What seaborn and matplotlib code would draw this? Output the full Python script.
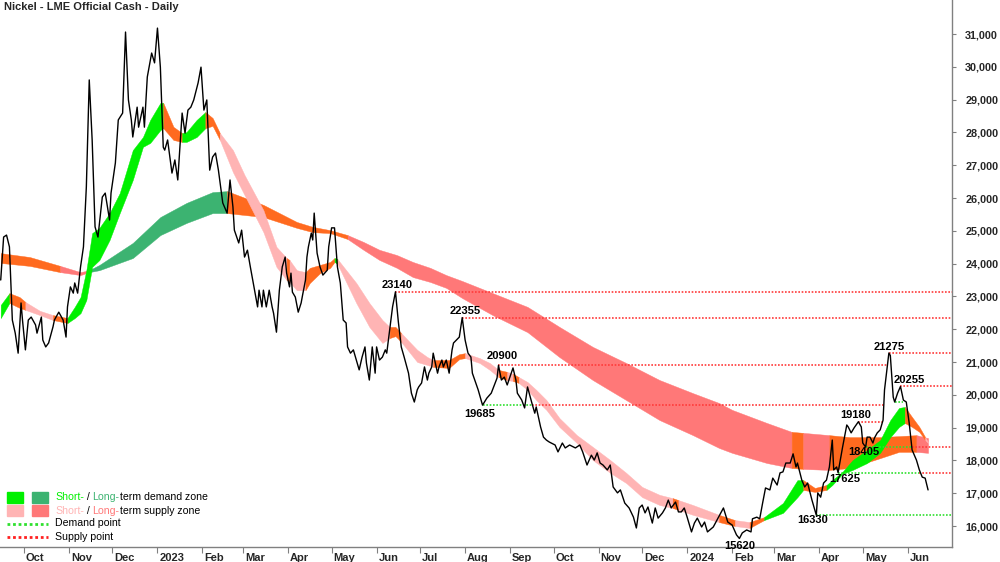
import numpy as np
import pandas as pd
import matplotlib
matplotlib.use("Agg")
import matplotlib.pyplot as plt
from matplotlib.patches import Rectangle
from matplotlib.lines import Line2D
from matplotlib.transforms import ScaledTranslation
import seaborn as sns

# ---------------- data (days counted from 2022-10-01) ----------------
price_day = [
    -16, -14, -12, -10, -8, -6, -4, -2, -1, 1,
    3, 5, 8, 9, 12, 13, 15, 17, 20, 21,
    24, 27, 29, 30, 32, 34, 35, 37, 39, 41,
    43, 45, 47, 49, 51, 53, 54, 56, 59, 60,
    63, 65, 68, 70, 72, 74, 75, 78, 79, 82,
    83, 85, 88, 90, 92, 94, 96, 97, 99, 102,
    104, 106, 109, 111, 113, 115, 117, 120, 122, 124,
    126, 128, 130, 132, 134, 137, 140, 142, 144, 145,
    148, 150, 152, 154, 156, 158, 161, 162, 164, 165,
    167, 169, 171, 172, 174, 176, 178, 180, 181, 183,
    184, 185, 187, 189, 191, 192, 194, 195, 196, 198,
    199, 200, 202, 204, 206, 209, 210, 212, 214, 215,
    216, 218, 220, 222, 223, 225, 227, 229, 231, 233,
    235, 236, 238, 240, 242, 243, 245, 247, 249, 250,
    252, 254, 256, 258, 260, 262, 265, 267, 269, 271,
    272, 274, 276, 278, 279, 281, 282, 285, 286, 288,
    289, 291, 293, 295, 296, 298, 300, 302, 304, 306,
    308, 309, 313, 316, 319, 322, 326, 327, 329, 331,
    333, 337, 339, 340, 343, 345, 347, 350, 352, 353,
    356, 358, 360, 362, 366, 368, 371, 373, 376, 380,
    383, 385, 388, 391, 393, 395, 397, 399, 402, 404,
    406, 409, 411, 414, 417, 420, 422, 424, 426, 428,
    430, 433, 435, 437, 440, 442, 444, 446, 449, 451,
    453, 455, 457, 460, 462, 464, 467, 469, 471, 475,
    478, 482, 485, 488, 491, 493, 495, 498, 501, 502,
    505, 507, 509, 511, 514, 516, 519, 521, 523, 525,
    528, 530, 532, 533, 536, 538, 540, 543, 546, 547,
    549, 551, 553, 555, 557, 558, 560, 561, 564, 567,
    568, 570, 572, 575, 577, 578, 580, 581, 583, 585,
    586, 588, 590, 592, 593, 595, 596, 597, 599, 600,
    602, 604, 606, 608, 610, 612, 615, 617, 619, 621,
    623,
]
price_val = [
    23500, 24810, 24870, 24510, 22280, 21880, 21270, 22800, 22280, 21370,
    22280, 22370, 22130, 21880, 22370, 21670, 21460, 21580, 22070, 22280,
    22520, 22280, 21760, 22680, 23290, 23100, 23410, 23100, 23900, 24510,
    26340, 29600, 27770, 25120, 24810, 25630, 26030, 26150, 25330, 26150,
    27070, 28380, 28590, 31060, 28990, 28380, 27860, 28770, 28160, 28770,
    28160, 29690, 30420, 30120, 31180, 29990, 27550, 27460, 27770, 26760,
    27160, 26550, 28590, 27980, 28680, 28770, 28990, 29510, 29990, 28680,
    28990, 26850, 27250, 27370, 26850, 25850, 25540, 26550, 25730, 25020,
    24630, 25020, 24200, 24410, 23900, 23410, 22680, 23190, 22680, 23190,
    22680, 23190, 22680, 22490, 21910, 23190, 23900, 24200, 23710, 23290,
    23710, 23130, 22980, 22520, 22800, 23040, 23500, 24200, 24510, 24930,
    24720, 25540, 24320, 23900, 23650, 23800, 24510, 25090, 25090, 24510,
    23900, 23410, 22280, 22190, 21460, 21270, 21370, 21060, 20760, 21150,
    21460, 20970, 20450, 21460, 20660, 21460, 21060, 21150, 21370, 21270,
    21970, 22680, 23140, 22220, 21460, 21150, 20660, 20050, 19780, 20150,
    20240, 20360, 20850, 20450, 20660, 20850, 21270, 20660, 20850, 21060,
    20850, 21060, 20660, 21370, 21580, 21670, 21760, 22355, 21670, 21270,
    21150, 20660, 20150, 19685, 19900, 20050, 20510, 20900, 20450, 20540,
    20300, 20820, 20450, 20050, 19840, 19600, 20240, 19750, 19440, 19630,
    19020, 18710, 18620, 18560, 18470, 18260, 18530, 18380, 18470, 18380,
    18470, 18260, 17860, 18160, 18010, 18230, 17920, 17860, 17710, 17860,
    17190, 17010, 17100, 16700, 16550, 16270, 15940, 16550, 16640, 16400,
    16580, 16090, 16550, 16240, 16400, 16550, 16790, 16550, 16730, 16430,
    16430, 16550, 16270, 15820, 16090, 16240, 15970, 16120, 15820, 15970,
    16220, 16550, 16120, 16030, 15730, 15620, 15790, 15880, 15820, 16220,
    16270, 16220, 16700, 17160, 17100, 17460, 17250, 17620, 17650, 17920,
    17920, 18200, 17800, 17920, 17400, 17190, 17310, 16790, 16330, 17010,
    16880, 17310, 17400, 17800, 18620, 17710, 17800, 17625, 18380, 19080,
    19020, 18840, 18990, 19180, 19020, 18530, 18405, 18710, 18710, 18530,
    18680, 18840, 18930, 19230, 20150, 20910, 21275, 21200, 19930, 19780,
    20050, 20255, 19840, 19780, 19140, 18320, 18010, 17710, 17490, 17460,
    17100,
]

# short-term zone (d = demand, s = supply, n = neutral/transition)
short_day = [-16, -10, -3, 1, 11, 20, 30, 35, 39, 43, 47, 52, 59, 66, 75, 82, 87, 94, 96, 103,
             109, 112, 119, 125, 130, 135, 144, 152, 165, 174, 181, 183, 188, 194, 197, 204, 211,
             214, 216, 229, 238, 247, 252, 256, 260, 271, 278, 282, 293, 300, 304, 314, 321, 327,
             333, 337, 341, 347, 353, 360, 369, 381, 392, 404, 415, 426, 438, 447, 451, 461, 479,
             490, 500, 510, 523, 533, 537, 545, 553, 557, 564, 571, 581, 590, 597, 603, 607, 612,
             617, 621, 623]
short_top = [22740, 23100, 22980, 22830, 22560, 22430, 22340, 22680, 22980, 23800, 24930, 25090,
             25540, 26150, 27460, 27860, 28380, 28900, 28900, 28170, 27980, 28010, 28380, 28620,
             28440, 27980, 27460, 26700, 25630, 24510, 24170, 24110, 23800, 23740, 23870, 23960,
             24050, 24170, 24140, 23410, 22800, 22280, 22070, 22070, 21880, 21370, 21150, 21060,
             21060, 21240, 21270, 21120, 20970, 20760, 20700, 20640, 20540, 20390, 20150, 19840,
             19290, 18770, 18410, 18010, 17620, 17190, 16950, 16850, 16790, 16640, 16340, 16180,
             16120, 16270, 16700, 17400, 17400, 17160, 17250, 17400, 17650, 18010, 18320, 18620,
             19230, 19600, 19630, 19320, 19020, 18710, 18560]
short_bot = [22340, 22800, 22650, 22590, 22430, 22280, 22190, 22340, 22490, 22890, 23900, 24110,
             24720, 25540, 26550, 27560, 27680, 28070, 28130, 27770, 27710, 27710, 27860, 28130,
             28200, 27770, 26790, 26090, 24960, 23900, 23500, 23440, 23190, 23190, 23410, 23710,
             23870, 24050, 23990, 22800, 22070, 21580, 21730, 21790, 21610, 21000, 20910, 20850,
             20820, 21090, 21120, 20970, 20760, 20540, 20450, 20420, 20360, 20150, 19840, 19540,
             19020, 18530, 18010, 17620, 17310, 16880, 16640, 16550, 16490, 16340, 16120, 16000,
             15940, 16180, 16400, 16880, 17100, 17040, 17100, 17250, 17590, 17710, 17920, 18230,
             18710, 19020, 19140, 19020, 18870, 18620, 18530]
short_state = ("dnnssndddd" "ddddddddnn" "dddnnsssss" "nssnnnndss" "ssnnsssnnn"
               "sssnsnssss" "sssssssnss" "nsndddnndd" "ddddddnnnss")

# long-term zone
long_day = [-16, 4, 25, 39, 45, 52, 75, 94, 112, 130, 140, 165, 188, 199, 211, 223, 234, 245,
            257, 268, 280, 291, 302, 323, 347, 369, 392, 415, 438, 461, 479, 488, 512, 529,
            537, 555, 569, 590, 603, 615, 623]
long_top = [24320, 24200, 23930, 23740, 23800, 23960, 24630, 25420, 25850, 26180, 26210, 25790,
            25270, 25120, 25020, 24870, 24660, 24420, 24260, 24050, 23870, 23650, 23470, 23100,
            22680, 22070, 21460, 20970, 20450, 20050, 19750, 19540, 19140, 18870, 18840, 18770,
            18710, 18710, 18740, 18770, 18680]
long_bot = [24020, 23930, 23740, 23650, 23740, 23800, 24170, 24870, 25240, 25540, 25540, 25420,
            25090, 24960, 24930, 24750, 24420, 24110, 23870, 23590, 23440, 23260, 22950, 22430,
            21910, 21150, 20450, 19840, 19230, 18770, 18380, 18230, 17920, 17770, 17740, 17710,
            17770, 18070, 18260, 18260, 18230]
long_state = "nnssdddddd" "nnnnn" "ssssssssssssssssss" "n" "s" "nnnn" "ss"

# demand / supply points (horizontal dotted levels)
level_val = [23140, 22355, 20900, 19685, 19685, 21275, 20255, 19180, 18405, 18405, 17625, 17625, 16330, 19780]
level_start = [256, 302, 327, 316, 350, 596, 604, 575, 580, 612, 561, 617, 546, 600]
level_end = [640, 640, 595, 350, 593, 640, 640, 592, 612, 640, 617, 640, 640, 606]
level_kind = "sssdssssdsdsdd"

# annotated turning points
label_day = [256, 302, 327, 316, 596, 604, 575, 580, 561, 546, 493]
label_val = [23140, 22355, 20900, 19685, 21275, 20255, 19180, 18405, 17625, 16330, 15620]
label_side = "aaabaaabbbb"
label_dx = [1, 2, 3, -2, 0, 6, -2, -1, 5, -3, 0]   # points
label_dy = [1, 1, 3, 3, 1, 1, 1, 0, 1, 0, 2]        # points

month_ticks = pd.date_range("2022-10-01", "2024-06-01", freq="MS")
month_labels = [d.strftime("%Y") if d.month == 1 else d.strftime("%b") for d in month_ticks]
y_ticks = list(range(16000, 31001, 1000))

title = "Nickel - LME Official Cash - Daily"

# ---------------- drawing ----------------
BASE = pd.Timestamp("2022-10-01")


def to_dates(days):
    return BASE + pd.to_timedelta(np.asarray(days, dtype=float), unit="D")


sns.set_theme(style="white")
plt.rcParams["font.family"] = ["Liberation Sans", "DejaVu Sans"]

fig = plt.figure(figsize=(10, 5.62), dpi=100)
ax = fig.add_axes([0, 15 / 562, 0.952, 547 / 562])

C_SD = "#00f000"   # short demand
C_LD = "#3cb371"   # long demand
C_SS = "#ffb4b4"   # short supply
C_LS = "#ff7878"   # long supply
C_N = "#ff6a1f"    # transition
COL = {("short", "d"): C_SD, ("short", "s"): C_SS, ("short", "n"): C_N,
       ("long", "d"): C_LD, ("long", "s"): C_LS, ("long", "n"): C_N}


def draw_band(days, top, bot, states, kind, z):
    x = to_dates(days)
    top = np.asarray(top, float)
    bot = np.asarray(bot, float)
    n = len(days)
    i = 0
    while i < n - 1:
        j = i
        while j + 1 < n - 1 and states[j + 1] == states[i]:
            j += 1
        c = COL[(kind, states[i])]
        ax.fill_between(x[i:j + 2], bot[i:j + 2], top[i:j + 2], color=c,
                        edgecolor=c, lw=0.3, zorder=z)
        i = j + 1


draw_band(long_day, long_top, long_bot, long_state, "long", 1)
draw_band(short_day, short_top, short_bot, short_state, "short", 2)

for v, s, e, k in zip(level_val, level_start, level_end, level_kind):
    ax.plot(to_dates([s, e]), [v, v], color="#ff3a3a" if k == "s" else "#2fe02f",
            lw=1.2, ls=(0, (1, 1)), zorder=3)

price_df = pd.DataFrame({"date": to_dates(price_day), "price": price_val})
sns.lineplot(data=price_df, x="date", y="price", ax=ax, color="black", lw=1.0,
             estimator=None, sort=False, zorder=5)

for d, v, sd, dx, dy in zip(label_day, label_val, label_side, label_dx, label_dy):
    above = sd == "a"
    ax.annotate(f"{v}", xy=(to_dates([d])[0], v), xytext=(dx, dy if above else -dy),
                textcoords="offset points", ha="center", va="bottom" if above else "top",
                fontsize=8, fontweight="bold", color="black", zorder=6)

ax.set_xlim(to_dates([-16.5])[0], to_dates([639.5])[0])
ax.set_ylim(15360, 32037)
ax.set_xlabel("")
ax.set_ylabel("")

ax.yaxis.tick_right()
ax.set_yticks(y_ticks)
ax.set_yticklabels([f"{t:,}" for t in y_ticks], fontsize=7.8, fontweight="bold")
ax.tick_params(axis="y", which="major", direction="out", length=3, width=0.8,
               color="#808080", pad=6.5, left=False, right=True)

ax.set_xticks(month_ticks)
ax.set_xticklabels(month_labels, fontsize=8, fontweight="bold", ha="left")
ax.tick_params(axis="x", which="major", direction="out", length=4, width=0.8,
               color="#808080", pad=0.5, bottom=True)
for lab in ax.get_xticklabels():
    lab.set_transform(lab.get_transform() + ScaledTranslation(2 / 100, 0, fig.dpi_scale_trans))

for sp in ["top", "left"]:
    ax.spines[sp].set_visible(False)
for sp in ["right", "bottom"]:
    ax.spines[sp].set_color("#808080")
    ax.spines[sp].set_linewidth(1.0)
ax.grid(False)

fig.text(0.004, 0.997, title, ha="left", va="top", fontsize=8, fontweight="bold")

# ---------------- legend ----------------
renderer = fig.canvas.get_renderer()


def measure(s, size):
    t = fig.text(0, 0, s, fontsize=size)
    w = t.get_window_extent(renderer=renderer).width
    t.remove()
    return w


def rainbow(x0, y0, parts, size=7.6):
    prefix = ""
    base = measure("l", size)
    for s, c in parts:
        off = (measure(prefix + "l", size) - base) if prefix else 0.0
        fig.text(x0 + off / fig.bbox.width, y0, s, color=c, fontsize=size,
                 ha="left", va="center")
        prefix += s


def fy(py):
    return 1 - py / 562


for px, c in [(7, C_SD), (32, C_LD)]:
    fig.add_artist(Rectangle((px / 1000, fy(503)), 16 / 1000, 11 / 562, color=c,
                             transform=fig.transFigure))
for px, c in [(7, C_SS), (32, C_LS)]:
    fig.add_artist(Rectangle((px / 1000, fy(516)), 16 / 1000, 11 / 562, color=c,
                             transform=fig.transFigure))
fig.add_artist(Line2D([7 / 1000, 48 / 1000], [fy(523.5)] * 2, color="#2fe02f", lw=2,
                      ls=(0, (1, 1)), transform=fig.transFigure))
fig.add_artist(Line2D([7 / 1000, 48 / 1000], [fy(536.5)] * 2, color="#ff2020", lw=2,
                      ls=(0, (1, 1)), transform=fig.transFigure))

rainbow(55 / 1000, fy(497.5), [("Short-", C_SD), (" / ", "black"), ("Long-", C_LD),
                               ("term demand zone", "black")])
rainbow(55 / 1000, fy(510.5), [("Short-", C_SS), (" / ", "black"), ("Long-", C_LS),
                               ("term supply zone", "black")])
rainbow(55 / 1000, fy(523.5), [("Demand point", "black")])
rainbow(55 / 1000, fy(536.5), [("Supply point", "black")])

fig.savefig("out.png", dpi=100)
